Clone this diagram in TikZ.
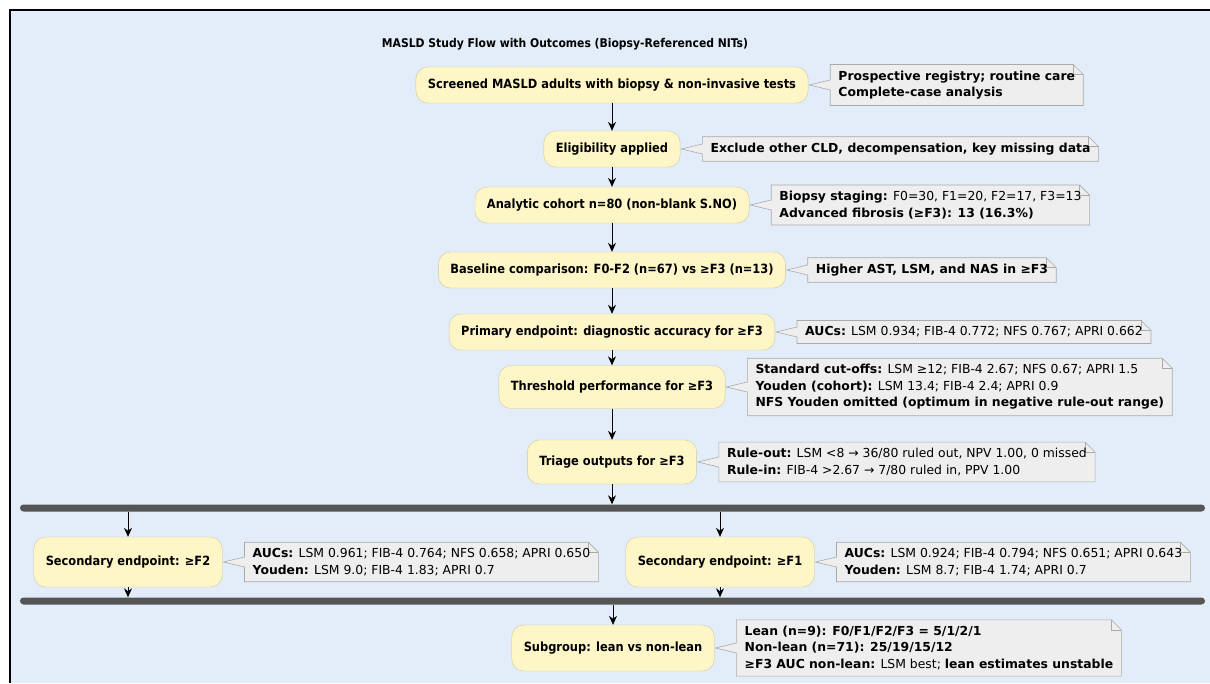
\documentclass[tikz,border=0pt]{standalone}
\usepackage{fontspec}
\setmainfont{DejaVu Sans Condensed}
\newfontfamily\notefamily{DejaVu Sans}
\usetikzlibrary{arrows.meta,positioning}

\definecolor{bgblue}{HTML}{E3EDF9}
\definecolor{boxfill}{HTML}{FEF6C6}
\definecolor{boxline}{HTML}{CFC7A0}
\definecolor{notefill}{HTML}{EEEEEE}
\definecolor{noteline}{HTML}{AAAAAA}
\definecolor{barcolor}{HTML}{555555}

\newcommand{\diagfont}{\fontsize{12}{16}\selectfont}
\newcommand{\boxfont}{\fontsize{12.7}{16}\selectfont\bfseries}
\newcommand{\notefont}{\notefamily\fontsize{12.4}{16.5}\selectfont}

\pgfdeclarelayer{back}
\pgfdeclarelayer{background}
\pgfsetlayers{back,background,main}

% paper outline with folded corner and pointer to the activity
\newcommand{\notepaper}[2]{%
  \begin{pgfonlayer}{background}
    \filldraw[notepaper] (#1.north west) -- ([xshift=-10pt]#1.north east)
      -- ([yshift=-10pt]#1.north east) -- (#1.south east) -- (#1.south west)
      -- ([yshift=-5pt]#1.west) -- ([xshift=1pt]#2.east) -- ([yshift=5pt]#1.west) -- cycle;
    \draw[notepaper, fill=none] ([xshift=-10pt]#1.north east) |- ([yshift=-10pt]#1.north east);
  \end{pgfonlayer}}

\tikzset{
  actbox/.style={draw=boxline, fill=boxfill, rounded corners=12pt, font=\boxfont,
    inner xsep=12pt, minimum height=36pt},
  notetext/.style={align=left, inner xsep=8pt, inner ysep=6pt, font=\notefont},
  notepaper/.style={draw=noteline, fill=notefill, line width=0.6pt},
  syncbar/.style={fill=barcolor, rounded corners=3.5pt, minimum height=7pt,
    minimum width=1185pt, inner sep=0pt},
  flow/.style={-{Stealth[length=9pt,width=8pt,inset=3pt]}, line width=0.8pt},
}

\begin{document}
\begin{tikzpicture}[x=1pt, y=-1pt, node distance=22pt]
  \useasboundingbox (0,0) rectangle (1210,683);
  \begin{pgfonlayer}{back}
    \fill[bgblue] (10,10) rectangle (1210,683);
    \draw[line width=1.5pt] (10,683) -- (10,10) -- (1210,10);
  \end{pgfonlayer}

  \node[font=\diagfont\bfseries] (title) at (565,44) {MASLD Study Flow with Outcomes (Biopsy-Referenced NITs)};

  % main flow
  \node[actbox] (screen)  at (612,85)  {Screened MASLD adults with biopsy \& non-invasive tests};
  \node[actbox] (elig)    at (612,149) {Eligibility applied};
  \node[actbox] (cohort)  at (612,205) {Analytic cohort n=80 (non-blank S.NO)};
  \node[actbox] (base)    at (612,270) {Baseline comparison: F0-F2 (n=67) vs ≥F3 (n=13)};
  \node[actbox] (primary) at (612,332) {Primary endpoint: diagnostic accuracy for ≥F3};
  \node[actbox, minimum height=43pt] (thresh) at (612,387) {Threshold performance for ≥F3};
  \node[actbox, minimum height=44pt] (triage) at (612,462) {Triage outputs for ≥F3};
  \node[syncbar] (fork) at (612.5,508) {};
  \node[actbox, minimum height=50pt] (secf2) at (128,562) {Secondary endpoint: ≥F2};
  \node[actbox, minimum height=50pt] (secf1) at (720,562) {Secondary endpoint: ≥F1};
  \node[syncbar] (join) at (612.5,601) {};
  \node[actbox, minimum height=46pt] (lean) at (613,648) {Subgroup: lean vs non-lean};

  % notes
  \node[notetext, font=\notefont\bfseries, right=of screen] (n-screen)
    {Prospective registry; routine care\\Complete-case analysis};
  \node[notetext, font=\notefont\bfseries, right=of elig] (n-elig)
    {Exclude other CLD, decompensation, key missing data};
  \node[notetext, right=of cohort] (n-cohort)
    {\textbf{Biopsy staging:} F0=30, F1=20, F2=17, F3=13\\\textbf{Advanced fibrosis (≥F3): 13 (16.3\%)}};
  \node[notetext, font=\notefont\bfseries, right=of base] (n-base)
    {Higher AST, LSM, and NAS in ≥F3};
  \node[notetext, right=of primary] (n-primary)
    {\textbf{AUCs:} LSM 0.934; FIB-4 0.772; NFS 0.767; APRI 0.662};
  \node[notetext, right=of thresh] (n-thresh)
    {\textbf{Standard cut-offs:} LSM ≥12; FIB-4 2.67; NFS 0.67; APRI 1.5\\
     \textbf{Youden (cohort):} LSM 13.4; FIB-4 2.4; APRI 0.9\\
     \textbf{NFS Youden omitted (optimum in negative rule-out range)}};
  \node[notetext, right=of triage] (n-triage)
    {\textbf{Rule-out:} LSM <8 → 36/80 ruled out, NPV 1.00, 0 missed\\
     \textbf{Rule-in:} FIB-4 >2.67 → 7/80 ruled in, PPV 1.00};
  \node[notetext, right=of secf2] (n-secf2)
    {\textbf{AUCs:} LSM 0.961; FIB-4 0.764; NFS 0.658; APRI 0.650\\
     \textbf{Youden:} LSM 9.0; FIB-4 1.83; APRI 0.7};
  \node[notetext, right=of secf1] (n-secf1)
    {\textbf{AUCs:} LSM 0.924; FIB-4 0.794; NFS 0.651; APRI 0.643\\
     \textbf{Youden:} LSM 8.7; FIB-4 1.74; APRI 0.7};
  \node[notetext, right=of lean] (n-lean)
    {\textbf{Lean (n=9): F0/F1/F2/F3 = 5/1/2/1}\\
     \textbf{Non-lean (n=71): 25/19/15/12}\\
     \textbf{≥F3 AUC non-lean:} LSM best; \textbf{lean estimates unstable}};

  \notepaper{n-screen}{screen}
  \notepaper{n-elig}{elig}
  \notepaper{n-cohort}{cohort}
  \notepaper{n-base}{base}
  \notepaper{n-primary}{primary}
  \notepaper{n-thresh}{thresh}
  \notepaper{n-triage}{triage}
  \notepaper{n-secf2}{secf2}
  \notepaper{n-secf1}{secf1}
  \notepaper{n-lean}{lean}

  % connectors
  \draw[flow] (screen) -- (elig);
  \draw[flow] (elig) -- (cohort);
  \draw[flow] (cohort) -- (base);
  \draw[flow] (base) -- (primary);
  \draw[flow] (primary) -- (thresh);
  \draw[flow] (thresh) -- (triage);
  \draw[flow] (triage) -- (triage.south |- fork.north);
  \draw[flow] (fork.south -| secf2) -- (secf2);
  \draw[flow] (fork.south -| secf1) -- (secf1);
  \draw[flow] (secf2) -- (secf2 |- join.north);
  \draw[flow] (secf1) -- (secf1 |- join.north);
  \draw[flow] (join.south -| lean) -- (lean);
\end{tikzpicture}
\end{document}
